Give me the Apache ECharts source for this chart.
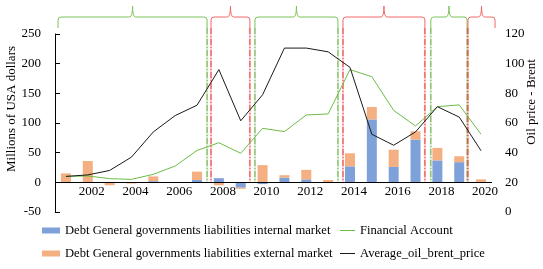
<!DOCTYPE html>
<html>
<head>
<meta charset="utf-8">
<script src="https://cdn.jsdelivr.net/npm/echarts@6/dist/echarts.min.js"></script>
<style>
html, body { margin: 0; padding: 0; background: #fff; }
#chart { width: 543px; height: 269px; }
</style>
</head>
<body>
<div id="chart"></div>
<script>
var years = ["2001", "2002", "2003", "2004", "2005", "2006", "2007", "2008", "2009", "2010",
             "2011", "2012", "2013", "2014", "2015", "2016", "2017", "2018", "2019", "2020"];

// millions of USA dollars (left axis)
var internalMarket = [0, 0, 0, 0, 2, 0, 4, 7, -9, -3, 8, 5, 0, 27, 106, 26, 72, 37, 34, -1];
var externalMarket = [15, 36, -5, -2, 8, 0, 14, -5, -2, 29, 4, 16, 4, 22, 21, 29, 14, 21, 10, 5];

// right axis
var financialAccount = [24, 24.3, 22.5, 22, 25.4, 31, 41.5, 46.7, 39.6, 56.4,
                        54.2, 65.4, 66.1, 96, 91.2, 68.5, 58, 71, 72.2, 52.4];
var oilBrent = [24, 25, 28, 37, 54, 65, 72, 96, 61.5, 79,
                110.5, 110.5, 108, 97.5, 52.4, 45, 54, 71, 64, 41.3];

// periods marked above the plot (year positions, fractional)
var periodStart = [2000.64, 2007.64, 2009.65, 2013.68, 2017.7, 2019.4];
var periodEnd = [2007.46, 2009.42, 2013.45, 2017.43, 2019.36, 2020.64];
var periodKind = ["green", "red", "green", "red", "green", "red"];

var nameInternal = "Debt General governments liabilities internal market";
var nameExternal = "Debt General governments liabilities external market";
var nameFinancial = "Financial Account";
var nameOil = "Average_oil_brent_price";
var leftTitle = "Millions of USA dollars";
var rightTitle = "Oil price - Brent";

var font = "Liberation Serif";
var braceColor = { green: "#7cc35a", red: "#f26868" };
var lineColor = { green: "#6ab04c", red: "#f03838" };

// 期間の括弧と縦の一点鎖線
function renderPeriod(params, api) {
    var cs = params.coordSys;
    var top = cs.y;
    var p0 = api.coord([api.value(0), 0]);
    var x0 = p0[0];
    var x1 = api.coord([api.value(1), 0])[0];
    var yZero = p0[1];
    var xm = (x0 + x1) / 2;
    var kind = periodKind[params.dataIndex];
    var b = top - 6, h = top - 17, pk = top - 28;
    var path = "M" + x0 + "," + b + " L" + x0 + "," + (h + 3) +
        " Q" + x0 + "," + h + " " + (x0 + 3) + "," + h +
        " L" + (xm - 3) + "," + h +
        " Q" + xm + "," + h + " " + xm + "," + pk +
        " Q" + xm + "," + h + " " + (xm + 3) + "," + h +
        " L" + (x1 - 3) + "," + h +
        " Q" + x1 + "," + h + " " + x1 + "," + (h + 3) +
        " L" + x1 + "," + b;
    var children = [{
        type: "path",
        shape: { pathData: path },
        style: { fill: "none", stroke: braceColor[kind], lineWidth: 1 }
    }];
    [x0, x1].forEach(function(x) {
        if (x > cs.x + 5 && x < cs.x + cs.width - 1) {
            children.push({
                type: "line",
                shape: { x1: x, y1: b, x2: x, y2: yZero },
                style: { stroke: lineColor[kind], lineWidth: 2, opacity: 0.25 }
            });
            children.push({
                type: "line",
                shape: { x1: x, y1: b, x2: x, y2: yZero },
                style: { stroke: lineColor[kind], lineWidth: 1, lineDash: [6, 2, 1, 2] }
            });
        }
    });
    return { type: "group", children: children };
}

var periodData = periodStart.map(function(s, i) {
    return [s - 2001, periodEnd[i] - 2001];
});

function legendItem(name, left, top, w, h) {
    return {
        data: [name],
        left: left, top: top,
        itemWidth: w, itemHeight: h,
        icon: "rect",
        padding: 0,
        textStyle: { fontFamily: font, fontSize: 12.6, color: "#000" }
    };
}

// 縦書きの軸タイトル
function axisTitle(text, x, y) {
    return {
        type: "text",
        x: x, y: y,
        rotation: Math.PI / 2,
        silent: true,
        style: {
            text: text,
            fill: "#000",
            font: "13px 'Liberation Serif'",
            align: "center",
            verticalAlign: "middle"
        }
    };
}

var chart = echarts.init(document.getElementById("chart"));
chart.setOption({
    animation: false,
    textStyle: { fontFamily: font },
    grid: { left: 55, right: 51, top: 34, bottom: 57, containLabel: false, outerBoundsMode: "none" },
    graphic: [
        axisTitle(leftTitle, 12, 109),
        axisTitle(rightTitle, 532, 102)
    ],
    legend: [
        legendItem(nameInternal, 42, 224, 18, 6),
        legendItem(nameExternal, 42, 247, 18, 6),
        legendItem(nameFinancial, 340, 224, 15, 1),
        legendItem(nameOil, 340, 247, 15, 1)
    ],
    xAxis: [{
        type: "category",
        data: years,
        axisLine: { show: false, onZero: false },
        axisTick: { show: false },
        axisLabel: {
            color: "#000", fontSize: 13, fontFamily: font, margin: -27,
            padding: [0, 0, 0, 8],
            interval: function(i) { return i % 2 === 1; }
        }
    }, {
        type: "value",
        min: -0.5, max: 19.5,
        show: false
    }],
    yAxis: [{
        type: "value",
        min: -50, max: 250, interval: 50,
        axisLine: { show: true, onZero: false, lineStyle: { color: "#000" } },
        axisTick: { show: true, inside: true, length: 5, lineStyle: { color: "#000" } },
        axisLabel: { color: "#000", fontSize: 13, fontFamily: font, margin: 14 },
        splitLine: { show: false }
    }, {
        type: "value",
        min: 0, max: 120, interval: 20,
        axisLine: { show: false, onZero: false },
        axisTick: { show: false },
        axisLabel: { color: "#000", fontSize: 13, fontFamily: font, margin: 13 },
        splitLine: { show: false }
    }],
    series: [{
        name: nameInternal,
        type: "bar",
        stack: "debt",
        barWidth: 10,
        itemStyle: { color: "#7fa1d9" },
        data: internalMarket,
        // 0 の横線
        markLine: {
            silent: true,
            symbol: "none",
            label: { show: false },
            lineStyle: { color: "#000", type: "solid", width: 1 },
            data: [{ yAxis: 0 }]
        }
    }, {
        name: nameExternal,
        type: "bar",
        stack: "debt",
        barWidth: 10,
        itemStyle: { color: "#f4af82" },
        data: externalMarket
    }, {
        name: nameFinancial,
        type: "line",
        yAxisIndex: 1,
        symbol: "none",
        itemStyle: { color: "#6cbd45" },
        lineStyle: { color: "#6cbd45", width: 1 },
        data: financialAccount
    }, {
        name: nameOil,
        type: "line",
        yAxisIndex: 1,
        symbol: "none",
        itemStyle: { color: "#1a1a1a" },
        lineStyle: { color: "#1a1a1a", width: 1 },
        data: oilBrent
    }, {
        type: "custom",
        xAxisIndex: 1,
        yAxisIndex: 0,
        clip: false,
        silent: true,
        renderItem: renderPeriod,
        encode: { x: [0, 1] },
        data: periodData
    }]
});
</script>
</body>
</html>
